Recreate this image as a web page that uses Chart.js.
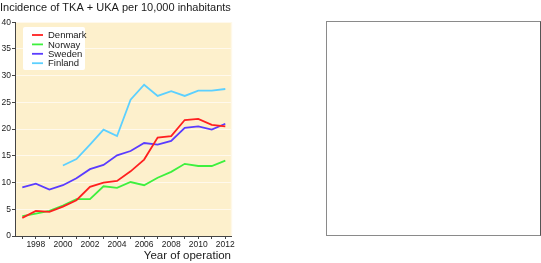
<!DOCTYPE html>
<html>
<head>
<meta charset="utf-8">
<script src="https://cdn.jsdelivr.net/npm/chart.js@4"></script>
<style>
  html, body { margin: 0; padding: 0; background: #ffffff; }
  #wrap { position: relative; width: 541px; height: 263px; }
  #c { position: absolute; left: 0; top: 0; }
  #box { position: absolute; left: 326px; top: 21px; width: 213px; height: 213px; border: 1px solid #8a8a8a; border-right-color: #555; }
</style>
</head>
<body>
<div id="wrap">
  <canvas id="c" width="541" height="263"></canvas>
  <div id="box"></div>
</div>
<script>
const years = [1997,1998,1999,2000,2001,2002,2003,2004,2005,2006,2007,2008,2009,2010,2011,2012];
const denmark = [3.4,4.7,4.5,5.5,6.7,9.2,10.0,10.3,12.1,14.3,18.4,18.7,21.7,21.9,20.8,20.5];
const norway  = [3.7,4.2,4.7,5.7,6.9,6.9,9.3,9.0,10.1,9.5,10.9,12.0,13.5,13.1,13.1,14.1];
const sweden  = [9.1,9.8,8.7,9.5,10.8,12.5,13.3,15.1,15.9,17.4,17.1,17.8,20.25,20.5,19.9,21.0];
const finland = [null,null,null,13.2,14.4,17.1,19.9,18.7,25.5,28.3,26.2,27.1,26.2,27.2,27.2,27.5];
const seriesNames = ['Denmark','Norway','Sweden','Finland'];
const seriesColors = ['#ff2020','#3ef03e','#5a3cff','#5cd0ff'];
const yTicks = [0,5,10,15,20,25,30,35,40];
const titleText = 'Incidence of TKA + UKA per 10,000 inhabitants';
const xTitle = 'Year of operation';

const FONT = "'Liberation Sans', Arial, Helvetica, sans-serif";
const allSeries = [denmark, norway, sweden, finland];

const bgPlugin = {
  id: 'bg',
  beforeDraw(chart) {
    const a = chart.chartArea, ctx = chart.ctx;
    ctx.save();
    ctx.fillStyle = '#fdf0cc';
    ctx.fillRect(a.left, a.top, a.right - a.left, a.bottom - a.top);
    ctx.strokeStyle = '#fff8e8';
    ctx.lineWidth = 1.5;
    ctx.beginPath();
    ctx.moveTo(a.right + 0.5, a.top);
    ctx.lineTo(a.right + 0.5, a.bottom);
    ctx.stroke();
    ctx.restore();
  }
};

const legendPlugin = {
  id: 'inlegend',
  afterDatasetsDraw(chart) {
    const ctx = chart.ctx;
    ctx.save();
    const x0 = 23, y0 = 27, w = 62, h = 43;
    ctx.fillStyle = '#ffffff';
    ctx.beginPath();
    if (ctx.roundRect) ctx.roundRect(x0, y0, w, h, 2); else ctx.rect(x0, y0, w, h);
    ctx.fill();
    ctx.font = '9.5px ' + FONT;
    ctx.textBaseline = 'middle';
    chart.data.datasets.forEach((ds, i) => {
      const y = 35 + i * 9.4;
      ctx.strokeStyle = ds.borderColor;
      ctx.lineWidth = 1.8;
      ctx.beginPath();
      ctx.moveTo(32, y);
      ctx.lineTo(43, y);
      ctx.stroke();
      ctx.fillStyle = '#1a1a1a';
      ctx.fillText(ds.label, 48, y + 0.5);
    });
    ctx.restore();
  }
};

const datasets = allSeries.map((vals, i) => ({
  label: seriesNames[i],
  data: years.map((yr, j) => ({ x: yr, y: vals[j] })),
  borderColor: seriesColors[i],
  backgroundColor: seriesColors[i],
  borderWidth: 1.8,
  pointRadius: 0,
  tension: 0,
  spanGaps: false
}));

new Chart(document.getElementById('c'), {
  type: 'line',
  data: { datasets },
  plugins: [bgPlugin, legendPlugin],
  options: {
    responsive: false,
    animation: false,
    layout: { padding: { left: 0, right: 310, top: 0, bottom: 0 } },
    plugins: {
      legend: { display: false },
      tooltip: { enabled: false },
      title: {
        display: true,
        text: titleText,
        align: 'start',
        color: '#1a1a1a',
        font: { family: FONT, size: 11, weight: 'normal' },
        padding: { top: 1, bottom: 8 }
      }
    },
    scales: {
      x: {
        type: 'linear',
        min: 1996.46,
        max: 2012.42,
        afterBuildTicks(s) { s.ticks = years.map(v => ({ value: v })); },
        afterFit(s) { s.height = 27; },
        ticks: {
          autoSkip: false,
          maxRotation: 0,
          padding: 1,
          color: '#222',
          font: { family: FONT, size: 8.5 },
          callback: v => (v % 2 === 0 ? String(v) : '')
        },
        grid: { display: true, drawOnChartArea: false, tickLength: 3, tickColor: '#444' },
        border: { color: '#444', width: 1 },
        title: {
          display: true,
          text: xTitle,
          align: 'end',
          color: '#1a1a1a',
          font: { family: FONT, size: 11.5 },
          padding: { top: 0, bottom: 0 }
        }
      },
      y: {
        type: 'linear',
        min: 0,
        max: 40,
        afterBuildTicks(s) { s.ticks = yTicks.map(v => ({ value: v })); },
        afterFit(s) { s.width = 15; },
        ticks: {
          padding: 1,
          color: '#222',
          font: { family: FONT, size: 8.5 }
        },
        grid: { color: '#fff9ec', lineWidth: 1, tickLength: 3, tickColor: '#444' },
        border: { color: '#444', width: 1 }
      }
    }
  }
});
</script>
</body>
</html>
